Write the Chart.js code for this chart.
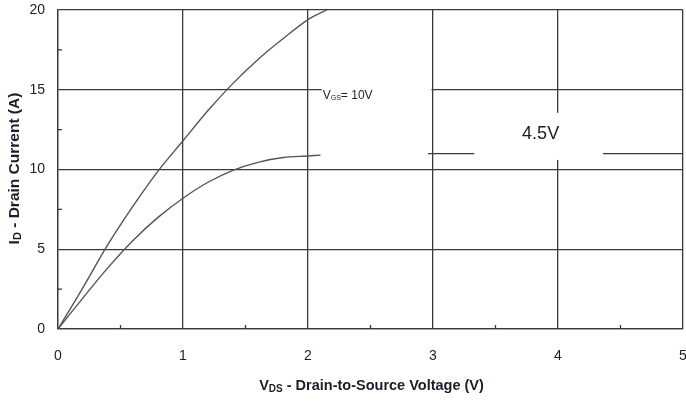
<!DOCTYPE html>
<html>
<head>
<meta charset="utf-8">
<script src="https://cdn.jsdelivr.net/npm/chart.js@4"></script>
<style>
  html, body { margin: 0; padding: 0; background: #fff; }
  #wrap { width: 686px; height: 401px; }
</style>
</head>
<body>
<div id="wrap"><canvas id="grafico"></canvas></div>
<script>
// Datos
const vdsCurva10V = [0, 0.2, 0.4, 0.6, 0.8, 1.0, 1.2, 1.4, 1.6, 1.8, 2.0, 2.15];
const idCurva10V = [0, 2.6, 5.3, 7.7, 9.9, 11.8, 13.7, 15.4, 16.9, 18.2, 19.4, 20];
const vdsCurva45V = [0, 0.2, 0.4, 0.6, 0.8, 1.0, 1.2, 1.4, 1.6, 1.8, 2.0, 2.1];
const idCurva45V = [0, 1.95, 3.85, 5.55, 7.0, 8.2, 9.2, 9.95, 10.45, 10.75, 10.85, 10.9];
// tramo horizontal de la etiqueta 4.5V
const vdsTramo45V = [2.96, 5];
const idTramo45V = [11, 11];
const ticksX = [0, 1, 2, 3, 4, 5];
const ticksY = [0, 5, 10, 15, 20];
const minorX = [0.5, 1.5, 2.5, 3.5, 4.5];
const minorY = [2.5, 7.5, 12.5, 17.5];

const colorGrilla = '#3a3a3a';
const colorCurva = '#555555';
const colorTexto = '#1c1c2c';

const toPoints = (xs, ys) => xs.map((v, i) => ({ x: v, y: ys[i] }));

// Dibuja ticks menores, huecos blancos, etiquetas y titulos con subindices
const extrasPlugin = {
    id: 'extras',
    afterDatasetsDraw(chart) {
        const { ctx, scales: { x, y } } = chart;
        ctx.save();
        ctx.strokeStyle = colorGrilla;
        ctx.lineWidth = 1.3;
        minorX.forEach(v => {
            const px = x.getPixelForValue(v);
            ctx.beginPath();
            ctx.moveTo(px, y.bottom);
            ctx.lineTo(px, y.bottom - 4);
            ctx.stroke();
        });
        minorY.forEach(v => {
            const py = y.getPixelForValue(v);
            ctx.beginPath();
            ctx.moveTo(x.left, py);
            ctx.lineTo(x.left + 4, py);
            ctx.stroke();
        });

        // hueco de la etiqueta VGS = 10V
        ctx.fillStyle = '#fff';
        const g1x0 = x.getPixelForValue(2.11);
        const g1x1 = x.getPixelForValue(3) - 1.5;
        const g1y = y.getPixelForValue(15);
        ctx.fillRect(g1x0, g1y - 4, g1x1 - g1x0, 8);

        // caja de la etiqueta 4.5V
        const b0 = x.getPixelForValue(3.33);
        const b1 = x.getPixelForValue(4.36);
        const bt = y.getPixelForValue(13.55);
        const bb = y.getPixelForValue(10.6);
        ctx.fillRect(b0, bt, b1 - b0, bb - bt);

        ctx.fillStyle = colorTexto;
        ctx.textBaseline = 'alphabetic';
        ctx.textAlign = 'left';
        let tx = g1x0 + 1;
        const ty = g1y + 9;
        ctx.font = '12px "Liberation Sans", Arial, sans-serif';
        ctx.fillText('V', tx, ty);
        tx += ctx.measureText('V').width;
        ctx.font = '7px "Liberation Sans", Arial, sans-serif';
        ctx.fillText('GS', tx, ty + 1);
        tx += ctx.measureText('GS').width;
        ctx.font = '12px "Liberation Sans", Arial, sans-serif';
        ctx.fillText('= 10V', tx, ty);

        ctx.font = '18px "Liberation Sans", Arial, sans-serif';
        ctx.textAlign = 'center';
        ctx.textBaseline = 'middle';
        ctx.fillText('4.5V', (b0 + b1) / 2 + 2, y.getPixelForValue(12.25));
        ctx.restore();
    },
    afterDraw(chart) {
        const { ctx, chartArea } = chart;
        const dibujar = (base, sub, resto, cx, cy, size) => {
            const grande = `bold ${size}px "Liberation Sans", Arial, sans-serif`;
            const chico = `bold ${Math.round(size * 0.68)}px "Liberation Sans", Arial, sans-serif`;
            ctx.font = grande;
            const w1 = ctx.measureText(base).width;
            const w3 = ctx.measureText(resto).width;
            ctx.font = chico;
            const w2 = ctx.measureText(sub).width;
            let px = cx - (w1 + w2 + w3) / 2;
            ctx.font = grande;
            ctx.fillText(base, px, cy);
            px += w1;
            ctx.font = chico;
            ctx.fillText(sub, px, cy + 2);
            px += w2;
            ctx.font = grande;
            ctx.fillText(resto, px, cy);
        };
        ctx.save();
        ctx.fillStyle = colorTexto;
        ctx.textAlign = 'left';
        ctx.textBaseline = 'alphabetic';
        dibujar('V', 'DS', ' - Drain-to-Source Voltage (V)', (chartArea.left + chartArea.right) / 2 + 1, 390, 14.5);
        ctx.translate(19, 168.5);
        ctx.rotate(-Math.PI / 2);
        dibujar('I', 'D', ' - Drain Current (A)', 0, 0, 15.5);
        ctx.restore();
    }
};

const lineaBase = {
    showLine: true,
    pointRadius: 0,
    borderColor: colorCurva,
    borderWidth: 1.4,
    fill: false
};

new Chart(document.getElementById('grafico'), {
    type: 'scatter',
    data: {
        datasets: [
            { ...lineaBase, label: 'VGS = 10V', data: toPoints(vdsCurva10V, idCurva10V), tension: 0.35 },
            { ...lineaBase, label: 'VGS = 4.5V', data: toPoints(vdsCurva45V, idCurva45V), tension: 0.35 },
            { ...lineaBase, label: '4.5V', data: toPoints(vdsTramo45V, idTramo45V), borderColor: colorGrilla, borderWidth: 1.3 }
        ]
    },
    options: {
        responsive: true,
        maintainAspectRatio: false,
        animation: false,
        layout: { padding: { top: 10, right: 3, left: 0, bottom: 0 } },
        plugins: {
            legend: { display: false },
            tooltip: { enabled: false }
        },
        scales: {
            x: {
                type: 'linear',
                min: 0,
                max: 5,
                afterBuildTicks: s => { s.ticks = ticksX.map(v => ({ value: v })); },
                afterFit: s => { s.height = 72; s.paddingLeft = 0; s.paddingRight = 0; },
                ticks: {
                    padding: 19,
                    color: colorTexto,
                    font: { family: '"Liberation Sans", Arial, sans-serif', size: 14 }
                },
                grid: { color: colorGrilla, lineWidth: 1.3, drawTicks: false },
                border: { color: colorGrilla, width: 1.3 }
            },
            y: {
                type: 'linear',
                min: 0,
                max: 20,
                afterBuildTicks: s => { s.ticks = ticksY.map(v => ({ value: v })); },
                afterFit: s => { s.width = 58; s.paddingTop = 0; s.paddingBottom = 0; },
                ticks: {
                    padding: 13,
                    color: colorTexto,
                    font: { family: '"Liberation Sans", Arial, sans-serif', size: 14 }
                },
                grid: { color: colorGrilla, lineWidth: 1.3, drawTicks: false },
                border: { color: colorGrilla, width: 1.3 }
            }
        }
    },
    plugins: [extrasPlugin]
});
</script>
</body>
</html>
